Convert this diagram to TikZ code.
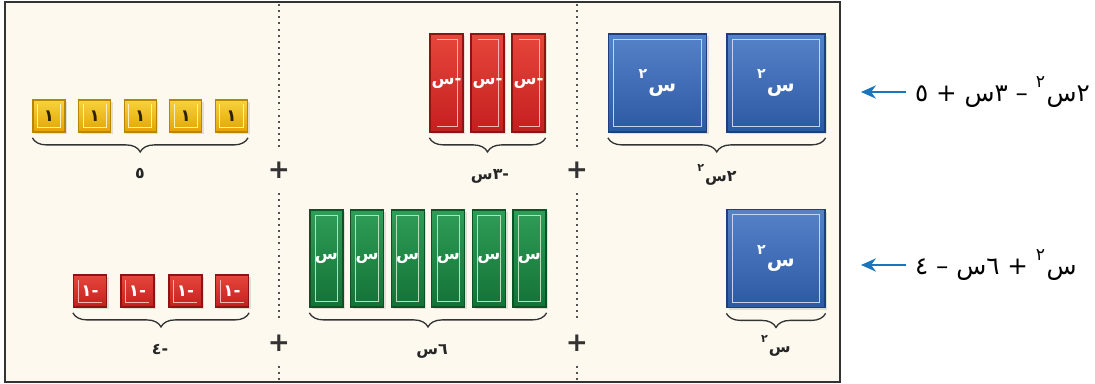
\documentclass[tikz,border=0pt]{standalone}
\usepackage{fontspec}
\newfontfamily\ar[Script=Arabic]{DejaVu Sans}
\newfontfamily\plusfont{DejaVu Sans}
\TeXXeTstate=1
\usetikzlibrary{decorations.pathreplacing}
\usetikzlibrary{shadows}
\usetikzlibrary{arrows.meta}

\definecolor{paper}{HTML}{FDF9EF}
\definecolor{frame}{HTML}{333333}
\definecolor{ylwT}{HTML}{F7D23E}\definecolor{ylwB}{HTML}{E2A500}\definecolor{ylwD}{HTML}{B88600}
\definecolor{redT}{HTML}{E6463B}\definecolor{redB}{HTML}{C41F1F}\definecolor{redD}{HTML}{8E1414}
\definecolor{grnT}{HTML}{2F9D57}\definecolor{grnB}{HTML}{137236}\definecolor{grnD}{HTML}{0D5227}
\definecolor{bluT}{HTML}{5582C8}\definecolor{bluB}{HTML}{2D59A4}\definecolor{bluD}{HTML}{1D3F7E}
\definecolor{arrowblue}{HTML}{1B75BC}

% raised digit two
\newcommand{\sqr}{\kern0.06em\raisebox{0.6em}{\fontsize{0.7em}{1em}\selectfont ٢}}
% long dash
\newcommand{\mns}{{\plusfont –}}

\begin{document}
\begin{tikzpicture}[
  x=0.02cm,y=-0.02cm,
  tile/.style={draw,line width=0.7pt,inner sep=0pt,text=white,
    font=\ar\bfseries\fontsize{9.5}{11}\selectfont,
    drop shadow={opacity=0.22,shadow xshift=1.3pt,shadow yshift=-1.3pt}},
  unit/.style={tile,minimum width=0.64cm,minimum height=0.64cm,
    top color=ylwT,bottom color=ylwB,draw=ylwD,text=black!75!ylwD,
    path picture={\draw[ylwT!35!white,line width=0.5pt]
      ([shift={(2.5pt,-2pt)}]path picture bounding box.north west) |-
      ([shift={(-2.5pt,2.5pt)}]path picture bounding box.south east) --
      ([shift={(-2.5pt,-2pt)}]path picture bounding box.north east);}},
  nunit/.style={tile,minimum width=0.66cm,minimum height=0.64cm,
    top color=redT,bottom color=redB,draw=redD,
    path picture={\draw[redT!40!white,line width=0.5pt]
      ([shift={(2.8pt,-2.8pt)}]path picture bounding box.north west) |-
      ([shift={(-2.8pt,2.8pt)}]path picture bounding box.south east);}},
  nrod/.style={tile,minimum width=0.66cm,minimum height=1.96cm,
    top color=redT,bottom color=redB,draw=redD,
    path picture={\draw[redT!40!white,line width=0.6pt]
      ([shift={(4pt,-3pt)}]path picture bounding box.north west) -|
      ([shift={(-3pt,3pt)}]path picture bounding box.south east) --
      ([shift={(4pt,3pt)}]path picture bounding box.south west);}},
  rod/.style={tile,minimum width=0.66cm,minimum height=1.94cm,
    top color=grnT,bottom color=grnB,draw=grnD,
    path picture={\draw[grnT!35!white,line width=0.6pt]
      ([shift={(3pt,-3pt)}]path picture bounding box.north west) rectangle
      ([shift={(-3pt,3pt)}]path picture bounding box.south east);}},
  sq/.style={tile,minimum width=1.96cm,minimum height=1.96cm,
    top color=bluT,bottom color=bluB,draw=bluD,
    font=\ar\bfseries\fontsize{11.5}{13}\selectfont,
    path picture={\draw[bluT!35!white,line width=0.6pt]
      ([shift={(3pt,-3pt)}]path picture bounding box.north west) rectangle
      ([shift={(-3pt,3pt)}]path picture bounding box.south east);}},
  brc/.style={draw=frame,line width=0.75pt,decorate,
    decoration={brace,mirror,amplitude=8pt}},
  lbl/.style={font=\ar\bfseries\fontsize{9}{11}\selectfont,text=black!85},
  plus/.style={font=\plusfont\bfseries\fontsize{15}{16}\selectfont,text=frame,
    minimum height=26pt,inner sep=0pt},
  sep/.style={draw=frame!85,line width=1.2pt,dash pattern=on 1.1pt off 2.4pt},
  eq/.style={font=\ar\fontsize{14}{16}\selectfont,anchor=west,inner sep=5pt},
  arr/.style={draw=arrowblue,line width=1.7pt,-{Stealth[length=8.5pt,width=7.5pt]}}
]
  \useasboundingbox (0,0) rectangle (1095,384);
  \draw[frame,line width=1.2pt,fill=paper] (5,2) rectangle (840,382);

  % separators
  \node[plus](pa1) at (279,170){+};
  \node[plus](pa2) at (279,343){+};
  \node[plus](pb1) at (577,170){+};
  \node[plus](pb2) at (577,343){+};
  \draw[sep] (279,4) -- (pa1.north) (pa1.south) -- (pa2.north) (pa2.south) -- (279,381);
  \draw[sep] (577,4) -- (pb1.north) (pb1.south) -- (pb2.north) (pb2.south) -- (577,381);

  % first row
  \node[unit](u1) at (49,116){\beginR ١\endR};
  \node[unit](u2) at (94.6,116){\beginR ١\endR};
  \node[unit](u3) at (140.2,116){\beginR ١\endR};
  \node[unit](u4) at (185.8,116){\beginR ١\endR};
  \node[unit](u5) at (231.4,116){\beginR ١\endR};
  \node[nrod](nx1) at (446.5,83){\beginR -س\endR};
  \node[nrod](nx2) at (487.5,83){\beginR -س\endR};
  \node[nrod](nx3) at (528.5,83){\beginR -س\endR};
  \node[sq](s1) at (657.5,83){\beginR س\sqr\endR};
  \node[sq](s2) at (776,83){\beginR س\sqr\endR};

  \draw[brc] ([yshift=-3pt]u1.south west) -- ([yshift=-3pt]u5.south east);
  \draw[brc] ([yshift=-3pt]nx1.south west) -- ([yshift=-3pt]nx3.south east);
  \draw[brc] ([yshift=-3pt]s1.south west) -- ([yshift=-3pt]s2.south east);
  \node[lbl](l1) at (140,174){\beginR ٥\endR};
  \node[lbl](l2) at (490,176){\beginR -٣س\endR};
  \node[lbl](l3) at (717,175){\beginR ٢س\sqr\endR};

  % second row
  \node[nunit](n1) at (90,291){\beginR -١\endR};
  \node[nunit](n2) at (137.5,291){\beginR -١\endR};
  \node[nunit](n3) at (185.5,291){\beginR -١\endR};
  \node[nunit](n4) at (232,291){\beginR -١\endR};
  \node[rod](x1) at (326.5,258.5){\beginR س\endR};
  \node[rod](x2) at (367.1,258.5){\beginR س\endR};
  \node[rod](x3) at (407.7,258.5){\beginR س\endR};
  \node[rod](x4) at (448.3,258.5){\beginR س\endR};
  \node[rod](x5) at (488.9,258.5){\beginR س\endR};
  \node[rod](x6) at (529.5,258.5){\beginR س\endR};
  \node[sq](s3) at (776,258.5){\beginR س\sqr\endR};

  \draw[brc] ([yshift=-3pt]n1.south west) -- ([yshift=-3pt]n4.south east);
  \draw[brc] ([yshift=-3pt]x1.south west) -- ([yshift=-3pt]x6.south east);
  \draw[brc] ([yshift=-3pt]s3.south west) -- ([yshift=-3pt]s3.south east);
  \node[lbl](l4) at (160,349){\beginR -٤\endR};
  \node[lbl](l5) at (432,351){\beginR ٦س\endR};
  \node[lbl](l6) at (776,346){\beginR س\sqr\endR};

  % expressions
  \coordinate (t1) at (861,92);
  \coordinate (t2) at (861,265);
  \node[eq](e1) at (906,92){\beginR ٢س\sqr\ \mns\ ٣س + ٥\endR};
  \node[eq](e2) at (906,265){\beginR س\sqr\ + ٦س \mns\ ٤\endR};
  \draw[arr] (e1.west) -- (t1);
  \draw[arr] (e2.west) -- (t2);
\end{tikzpicture}
\end{document}
